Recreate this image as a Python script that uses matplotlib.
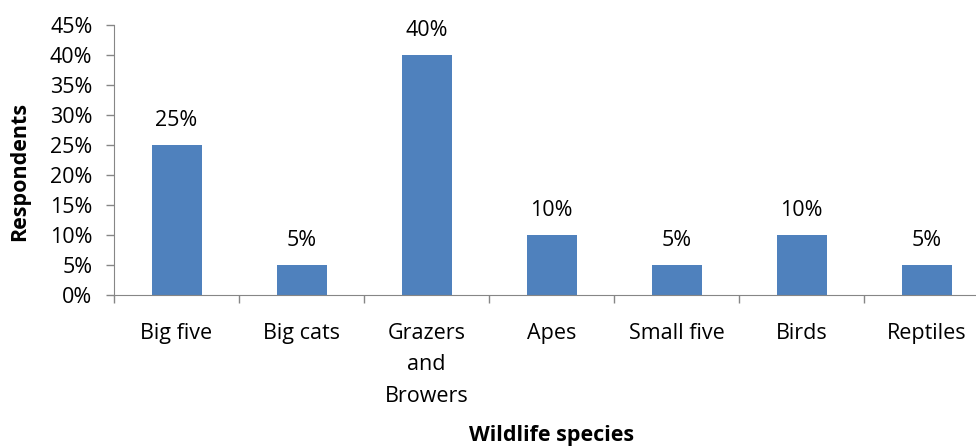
import matplotlib.pyplot as plt
from matplotlib.ticker import FuncFormatter

categories = ["Big five", "Big cats", "Grazers\nand\nBrowers", "Apes", "Small five", "Birds", "Reptiles"]
values = [25, 5, 40, 10, 5, 10, 5]
yticks = [0, 5, 10, 15, 20, 25, 30, 35, 40, 45]

plt.rcParams['font.family'] = ['Open Sans', 'DejaVu Sans']
fs = 15.5

fig = plt.figure(figsize=(9.76, 4.46), dpi=100)
ax = fig.add_axes([114 / 976, 151 / 446, 875 / 976, 270 / 446])

x = list(range(len(categories)))
bars = ax.bar(x, values, width=0.4, color="#4F81BD", zorder=2)
for b, v in zip(bars, values):
    ax.text(b.get_x() + b.get_width() / 2, v + 2.3, f"{v}%", ha="center", va="bottom",
            fontsize=fs, color="black")

ax.set_xlim(-0.5, len(categories) - 0.5)
ax.set_ylim(0, 45)
ax.set_yticks(yticks)
ax.yaxis.set_major_formatter(FuncFormatter(lambda v, p: f"{v:.0f}%"))
ax.set_xticks(x)
ax.set_xticklabels(categories, fontsize=fs, linespacing=1.66, va="top")
ax.set_xticks([i - 0.5 for i in range(len(categories) + 1)], minor=True)
ax.tick_params(axis="x", which="major", length=0, pad=20)
ax.tick_params(axis="x", which="minor", length=5.5, color="#868686", width=1)
ax.tick_params(axis="y", length=5.5, color="#868686", width=1, labelsize=fs, pad=10)

for s in ["top", "right"]:
    ax.spines[s].set_visible(False)
for s in ["left", "bottom"]:
    ax.spines[s].set_color("#868686")

ax.set_ylabel("Respondents", fontsize=fs, fontweight="bold", va="center")
ax.yaxis.set_label_coords(-0.1074, 0.456)
ax.set_xlabel("Wildlife species", fontsize=fs, fontweight="bold", va="center")
ax.xaxis.set_label_coords(0.5, -0.52)

fig.savefig("out.png", dpi=100)
